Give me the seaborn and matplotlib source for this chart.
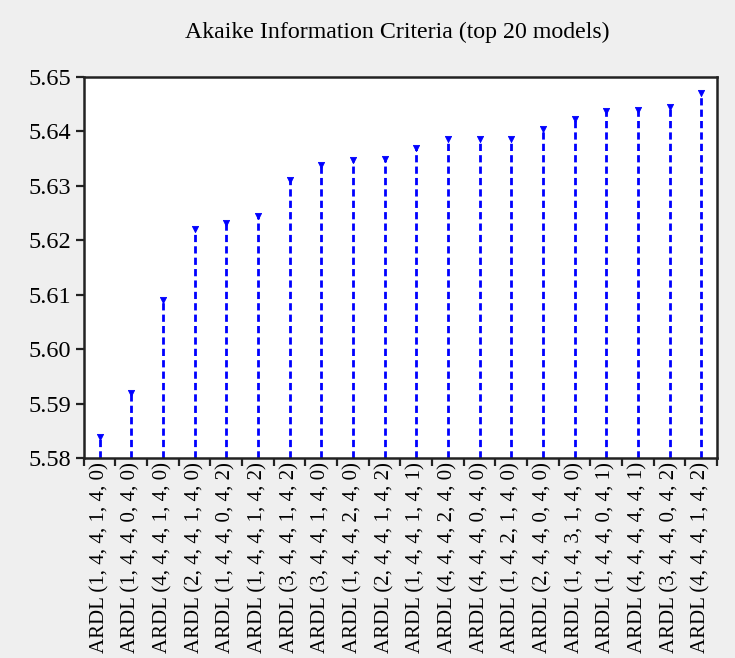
import matplotlib
matplotlib.use("Agg")
import matplotlib.pyplot as plt
import seaborn as sns
import pandas as pd
import numpy as np

models = [
    "ARDL (1, 4, 4, 1, 4, 0)", "ARDL (1, 4, 4, 0, 4, 0)", "ARDL (4, 4, 4, 1, 4, 0)",
    "ARDL (2, 4, 4, 1, 4, 0)", "ARDL (1, 4, 4, 0, 4, 2)", "ARDL (1, 4, 4, 1, 4, 2)",
    "ARDL (3, 4, 4, 1, 4, 2)", "ARDL (3, 4, 4, 1, 4, 0)", "ARDL (1, 4, 4, 2, 4, 0)",
    "ARDL (2, 4, 4, 1, 4, 2)", "ARDL (1, 4, 4, 1, 4, 1)", "ARDL (4, 4, 4, 2, 4, 0)",
    "ARDL (4, 4, 4, 0, 4, 0)", "ARDL (1, 4, 2, 1, 4, 0)", "ARDL (2, 4, 4, 0, 4, 0)",
    "ARDL (1, 4, 3, 1, 4, 0)", "ARDL (1, 4, 4, 0, 4, 1)", "ARDL (4, 4, 4, 4, 4, 1)",
    "ARDL (3, 4, 4, 0, 4, 2)", "ARDL (4, 4, 4, 1, 4, 2)",
]
aic = [5.5839, 5.5920, 5.6090, 5.6220, 5.6231, 5.6245, 5.6310, 5.6338, 5.6347, 5.6350,
       5.6369, 5.6386, 5.6386, 5.6386, 5.6404, 5.6422, 5.6437, 5.6440, 5.6445, 5.6470]
y_ticks = [5.58, 5.59, 5.60, 5.61, 5.62, 5.63, 5.64, 5.65]
title = "Akaike Information Criteria (top 20 models)"

df = pd.DataFrame({"model": models, "aic": aic})

sns.set_style("white")
plt.rcParams["font.family"] = ["Liberation Serif", "DejaVu Serif"]
plt.rcParams["text.color"] = "black"
plt.rcParams["xtick.color"] = "black"
plt.rcParams["ytick.color"] = "black"

fig = plt.figure(figsize=(7.35, 6.58), dpi=100, facecolor="#efefef")
ax = fig.add_axes([0.114, 0.304, 0.8615, 0.579])
ax.set_facecolor("white")

ymin = y_ticks[0]
pos = np.arange(len(df))
ax.vlines(pos, ymin, df["aic"], colors="#0000ff", linestyles=(0, (2.6, 1.5)), linewidth=2.0, zorder=2)
sns.scatterplot(data=df, x="model", y="aic", marker="v", s=20, color="#0000ff",
                edgecolor="#0000ff", linewidth=0.6, ax=ax, zorder=3, legend=False)

ax.set_xlim(-0.5, len(df) - 0.5)
ax.set_ylim(y_ticks[0], y_ticks[-1])
ax.set_yticks(y_ticks)
ax.set_yticklabels([f"{v:.2f}" for v in y_ticks], fontsize=17.5)
ax.set_xticks(pos)
ax.set_xticklabels(models, rotation=90, fontsize=15)
ax.set_xticks(np.arange(-0.5, len(df), 1.0), minor=True)
ax.tick_params(axis="x", which="major", length=0, pad=3)
ax.tick_params(axis="x", which="minor", length=6, width=1.6, direction="out", color="#222222", bottom=True)
ax.tick_params(axis="y", length=6, width=1.6, direction="out", color="#222222", left=True, pad=3)
ax.set_xlabel("")
ax.set_ylabel("")
for sp in ax.spines.values():
    sp.set_linewidth(1.8)
    sp.set_color("#222222")

fig.text(0.54, 0.951, title, ha="center", va="center", fontsize=17.2)

fig.savefig("out.png", dpi=100, facecolor=fig.get_facecolor())
